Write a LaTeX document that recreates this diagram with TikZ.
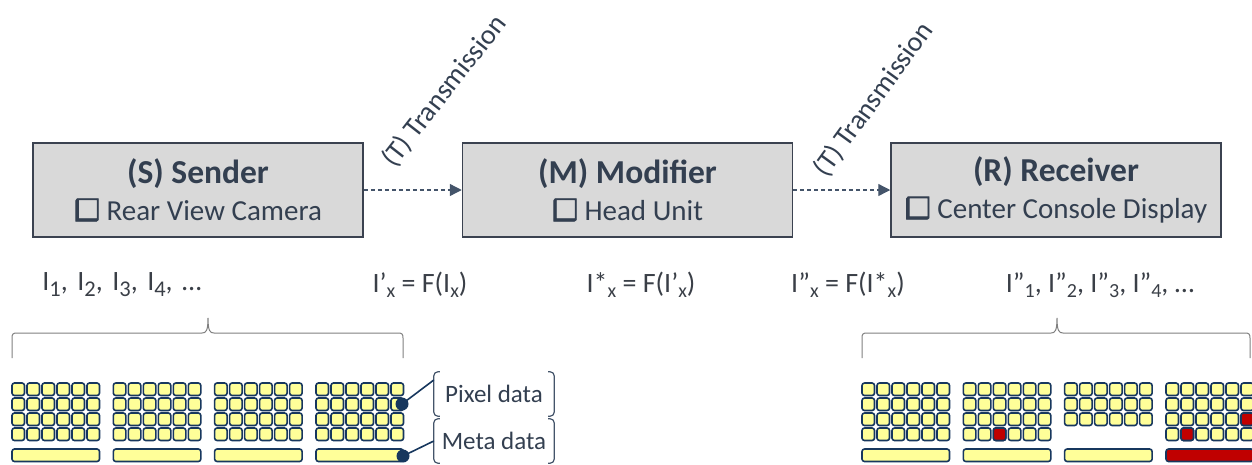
\documentclass[tikz,border=0pt]{standalone}
\usepackage{fontspec}
\setmainfont{Carlito}
\newfontfamily\symfont[FakeBold=2.5]{DejaVu Sans}
\usetikzlibrary{arrows.meta}
\definecolor{txt}{HTML}{333F50}
\definecolor{boxfill}{HTML}{D9D9D9}
\definecolor{boxline}{HTML}{3B4250}
\definecolor{arr}{HTML}{44546A}
\definecolor{navy}{HTML}{17375E}
\definecolor{yel}{HTML}{FFFF99}
\definecolor{redc}{HTML}{C00000}
\definecolor{brc}{HTML}{7F7F7F}
\definecolor{ftxt}{HTML}{3A3F47}
\newcommand{\lsub}[1]{\raisebox{-5.5pt}{\fontsize{20}{20}\selectfont #1}}
\newcommand{\bsub}[1]{\raisebox{-6pt}{\fontsize{22.5}{22.5}\selectfont #1}}
\newcommand{\gap}{\hspace{9.5pt}}
\newcommand{\chk}{\raisebox{0.5pt}{\reflectbox{\symfont\fontsize{29}{29}\selectfont ❑}}}
\tikzset{
  unitbox/.style={draw=boxline, fill=boxfill, line width=1.5pt, minimum width=330pt, minimum height=94pt, inner sep=0pt, text=txt, align=center},
  trans/.style={draw=arr, line width=1.3pt, dash pattern=on 4pt off 3pt, -{Triangle[length=12pt,width=12pt]}},
  translabel/.style={text=txt, font=\fontsize{28}{30}\selectfont, anchor=base west, inner sep=0pt},
  formula/.style={text=ftxt, font=\fontsize{28}{30}\selectfont, inner sep=0pt},
  sq/.style={draw=navy, fill=yel, line width=1.6pt, rounded corners=2.5pt},
  sqred/.style={draw=navy, fill=redc, line width=1.6pt, rounded corners=2.5pt},
  brace/.style={draw=brc, line width=1pt},
  dot/.style={circle, fill=navy, minimum size=13pt, inner sep=0pt},
  callline/.style={draw=navy, line width=1.6pt},
  bracketbox/.style={text=txt, font=\fontsize{25}{28}\selectfont, minimum width=120pt, minimum height=44pt, inner sep=0pt},
  brk/.style={draw=arr, line width=1.2pt, rounded corners=4pt}
}
\begin{document}
\begin{tikzpicture}[x=1pt, y=-1pt]
\useasboundingbox (0,0) rectangle (1252,464);
% boxes
\node[unitbox] (S) at (198,190) {{\bfseries\fontsize{33.5}{36}\selectfont (S) Sender}\\[9pt]{\fontsize{29}{32}\selectfont \chk\ Rear View Camera}};
\node[unitbox] (M) at (627.5,190) {{\bfseries\fontsize{33.5}{36}\selectfont (M) Modifier}\\[9pt]{\fontsize{29}{32}\selectfont \chk\ Head Unit}};
\node[unitbox] (R) at (1056,190) {{\bfseries\fontsize{33.5}{36}\selectfont (R) Receiver}\\[9pt]{\fontsize{29}{32}\selectfont \chk\ Center Console Display}};
% arrows
\draw[trans] (S.east) -- (M.west);
\draw[trans] (M.east) -- (R.west);
\node[translabel, rotate=52] (T1) at (394,169) {(T) Transmission};
\node[translabel, rotate=54] (T2) at (826,179) {(T) Transmission};
% formulas
\node[formula] (f1) at (122,285) {I\bsub{1},\gap I\bsub{2},\gap I\bsub{3},\gap I\bsub{4},\gap …};
\node[formula] (f2) at (420,285) {I’\lsub{x} = F(I\lsub{x})};
\node[formula] (f3) at (641,285) {I*\lsub{x} = F(I’\lsub{x})};
\node[formula] (f4) at (848,285) {I”\lsub{x} = F(I*\lsub{x})};
\node[formula] (f5) at (1100,285) {I”\lsub{1}, I”\lsub{2}, I”\lsub{3}, I”\lsub{4}, …};
% braces
\draw[brace] (12,358) -- (12,338) .. controls (12,334) and (13,333) .. (17,333) -- (202,333) .. controls (206,333) and (208,331) .. (208,318) .. controls (208,331) and (210,333) .. (214,333) -- (398,333) .. controls (402,333) and (403,334) .. (403,338) -- (403,358);
\draw[brace] (862,358) -- (862,338) .. controls (862,334) and (863,333) .. (867,333) -- (1051,333) .. controls (1055,333) and (1057,331) .. (1057,318) .. controls (1057,331) and (1059,333) .. (1063,333) -- (1245,333) .. controls (1249,333) and (1250,334) .. (1250,338) -- (1250,358);
% left frames
\foreach \x in {12,113.3,214.6,316}{
  \foreach \c in {0,...,5}{
    \foreach \r in {0,...,3}{
      \draw[sq] (\x+15*\c,383+15*\r) rectangle ++(12.5,12.5);
    }
  }
  \draw[sq] (\x,449) rectangle ++(87.5,12.5);
}
% right frames
\foreach \x in {862,963.3}{
  \foreach \c in {0,...,5}{
    \foreach \r in {0,...,3}{
      \draw[sq] (\x+15*\c,383+15*\r) rectangle ++(12.5,12.5);
    }
  }
  \draw[sq] (\x,449) rectangle ++(87.5,12.5);
}
\draw[sqred] (963.3+30,428) rectangle ++(12.5,12.5);
\foreach \c in {0,...,5}{
  \foreach \r in {0,...,2}{
    \draw[sq] (1064.6+15*\c,383+15*\r) rectangle ++(12.5,12.5);
  }
}
\draw[sq] (1064.6,449) rectangle ++(87.5,12.5);
\foreach \c in {0,...,5}{
  \foreach \r in {0,...,3}{
    \draw[sq] (1166+15*\c,383+15*\r) rectangle ++(12.5,12.5);
  }
}
\draw[sqred] (1166+75,413) rectangle ++(12.5,12.5);
\draw[sqred] (1166+15,428) rectangle ++(12.5,12.5);
\draw[sqred] (1166,449) rectangle ++(87.5,12.5);
% callouts
\node[dot] (pdot) at (402,404) {};
\node[dot] (mdot) at (403,456) {};
\node[bracketbox] (pix) at (494,394) {Pixel data};
\node[bracketbox] (meta) at (494,441) {Meta data};
\foreach \n in {pix,meta}{
  \draw[brk] ([xshift=6pt]\n.north west) -- (\n.north west) -- (\n.south west) -- ([xshift=6pt]\n.south west);
  \draw[brk] ([xshift=-6pt]\n.north east) -- (\n.north east) -- (\n.south east) -- ([xshift=-6pt]\n.south east);
}
\draw[callline] (pdot.center) -- ([yshift=14pt]pix.west);
\draw[callline] (mdot.center) -- (meta.west);
\end{tikzpicture}
\end{document}
